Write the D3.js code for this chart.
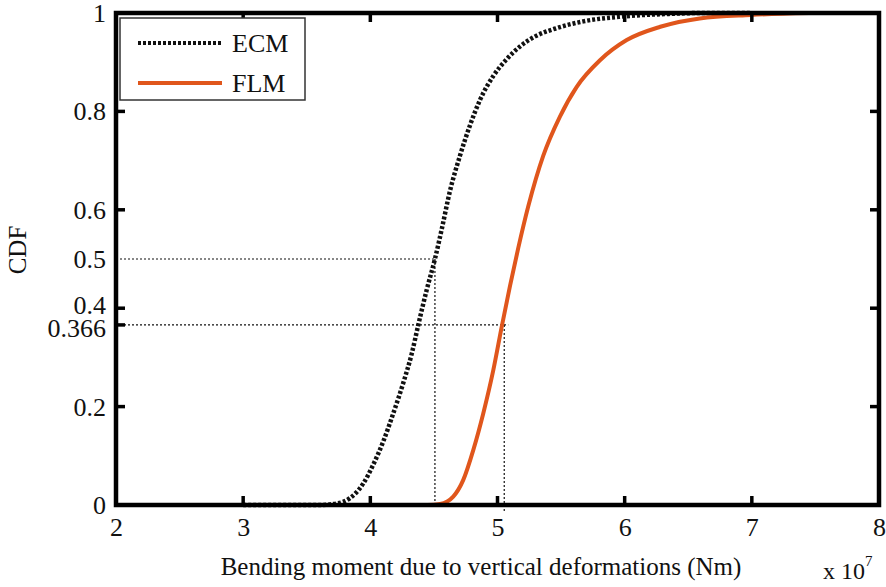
<!DOCTYPE html>
<html>
<head>
<meta charset="utf-8">
<script src="https://cdn.jsdelivr.net/npm/d3@7"></script>
<style>
  body { margin: 0; background: #fff; }
  svg text { font-family: "Liberation Serif", "Times New Roman", serif; fill: #111; }
</style>
</head>
<body>
<svg id="chart" width="886" height="587"></svg>
<script>
// CDF curves (x in units of 1e7 Nm)
const ecmX = [3.0, 3.6, 3.735, 3.84, 3.945, 4.023, 4.10, 4.18, 4.26, 4.325, 4.377, 4.443, 4.508, 4.561, 4.626, 4.705, 4.784, 4.862, 4.967, 5.072, 5.177, 5.3, 5.45, 5.675, 5.99, 6.33, 6.6, 7.0];
const ecmY = [0, 0, 0.003, 0.014, 0.044, 0.082, 0.128, 0.186, 0.249, 0.307, 0.366, 0.437, 0.5, 0.56, 0.638, 0.71, 0.772, 0.823, 0.872, 0.906, 0.932, 0.953, 0.968, 0.983, 0.993, 0.998, 1.0, 1.0];
const flmX = [4.0, 4.45, 4.548, 4.652, 4.731, 4.81, 4.888, 4.967, 5.033, 5.098, 5.163, 5.243, 5.36, 5.49, 5.623, 5.806, 6.016, 6.28, 6.59, 6.99, 7.45];
const flmY = [0, 0, 0.002, 0.017, 0.051, 0.112, 0.186, 0.274, 0.362, 0.445, 0.522, 0.608, 0.71, 0.789, 0.850, 0.904, 0.945, 0.972, 0.989, 0.996, 1.0];

const xTicks = [2, 3, 4, 5, 6, 7, 8];
const yTicks = [0, 0.2, 0.366, 0.4, 0.5, 0.6, 0.8, 1];
const seriesNames = ["ECM", "FLM"];

// guide lines: [x on curve, cdf level]
const ecmMedian = [4.508, 0.5];
const flmAt366 = [5.053, 0.366];

const margin = { top: 13, right: 7, bottom: 82, left: 116 };
const width = 886 - margin.left - margin.right;
const height = 587 - margin.top - margin.bottom;

const svg = d3.select("#chart");
const g = svg.append("g").attr("transform", `translate(${margin.left},${margin.top})`);

const x = d3.scaleLinear().domain([2, 8]).range([0, width]);
const y = d3.scaleLinear().domain([0, 1]).range([height, 0]);

const line = d3.line()
  .x(d => x(d[0]))
  .y(d => y(d[1]))
  .curve(d3.curveMonotoneX);

// dotted guide lines
const guides = g.append("g")
  .attr("stroke", "#111")
  .attr("stroke-width", 1.2)
  .attr("stroke-dasharray", "2,2")
  .attr("fill", "none");

guides.append("line")
  .attr("x1", 0).attr("x2", x(ecmMedian[0]))
  .attr("y1", y(ecmMedian[1])).attr("y2", y(ecmMedian[1]));
guides.append("line")
  .attr("x1", x(ecmMedian[0])).attr("x2", x(ecmMedian[0]))
  .attr("y1", y(ecmMedian[1])).attr("y2", y(0));
guides.append("line")
  .attr("x1", 0).attr("x2", x(flmAt366[0]) + 4)
  .attr("y1", y(flmAt366[1])).attr("y2", y(flmAt366[1]));
guides.append("line")
  .attr("x1", x(flmAt366[0])).attr("x2", x(flmAt366[0]))
  .attr("y1", y(flmAt366[1])).attr("y2", y(0) + 6);

// curves
g.append("path")
  .datum(ecmX.map((v, i) => [v, ecmY[i]]))
  .attr("d", line)
  .attr("fill", "none")
  .attr("stroke", "#111")
  .attr("stroke-width", 4.5)
  .attr("stroke-dasharray", "3,2");

g.append("path")
  .datum(flmX.map((v, i) => [v, flmY[i]]))
  .attr("d", line)
  .attr("fill", "none")
  .attr("stroke", "#e0561c")
  .attr("stroke-width", 4);

// axis labels from d3 axes; frame and tick marks drawn below
const xAxis = g.append("g")
  .attr("transform", `translate(0,${height})`)
  .call(d3.axisBottom(x).tickValues(xTicks).tickSize(0).tickPadding(13).tickFormat(d3.format("d")));
const yAxis = g.append("g")
  .call(d3.axisLeft(y).tickValues(yTicks).tickSize(0).tickPadding(10).tickFormat(d => String(d)));

[xAxis, yAxis].forEach(a => {
  a.attr("font-family", null).attr("font-size", null);
  a.select(".domain").remove();
  a.selectAll("text").attr("font-size", 26).attr("fill", "#111");
});
yAxis.selectAll(".tick text").attr("dy", "0.33em");
yAxis.selectAll(".tick").filter(d => d === 0.4).select("text").attr("dy", "0.2em");
yAxis.selectAll(".tick").filter(d => d === 0.366).select("text").attr("dy", "0.45em");

// tick marks, inward on all four sides
const marks = g.append("g").attr("stroke", "#000").attr("stroke-width", 3.5);
const inner = xTicks.slice(1, -1);
marks.selectAll(".xb").data(inner).join("line").attr("class", "xb")
  .attr("x1", d => x(d)).attr("x2", d => x(d))
  .attr("y1", height).attr("y2", height - 9);
marks.selectAll(".xt").data(inner).join("line").attr("class", "xt")
  .attr("x1", d => x(d)).attr("x2", d => x(d))
  .attr("y1", 0).attr("y2", 9);
marks.selectAll(".yl").data(yTicks.filter(d => d > 0 && d < 1 && d !== 0.5)).join("line").attr("class", "yl")
  .attr("x1", 0).attr("x2", 9)
  .attr("y1", d => y(d)).attr("y2", d => y(d));
marks.selectAll(".yr").data([0.2, 0.4, 0.6, 0.8]).join("line").attr("class", "yr")
  .attr("x1", width).attr("x2", width - 9)
  .attr("y1", d => y(d)).attr("y2", d => y(d));

// box
g.append("rect")
  .attr("x", 0).attr("y", 0)
  .attr("width", width).attr("height", height)
  .attr("fill", "none")
  .attr("stroke", "#000")
  .attr("stroke-width", 4.5);

// axis titles
svg.append("text")
  .attr("x", 481)
  .attr("y", 575)
  .attr("text-anchor", "middle")
  .attr("font-size", 25)
  .text("Bending moment due to vertical deformations (Nm)");

svg.append("text")
  .attr("transform", `translate(26,${margin.top + y(0.5) - 9}) rotate(-90)`)
  .attr("text-anchor", "middle")
  .attr("font-size", 25)
  .text("CDF");

const mult = svg.append("text")
  .attr("x", 823)
  .attr("y", 579)
  .attr("font-size", 24);
mult.append("tspan").text("x 10");
mult.append("tspan").attr("dy", -13).attr("font-size", 15).text("7");

// legend
const legend = g.append("g").attr("transform", "translate(4,5)");
legend.append("rect")
  .attr("width", 185).attr("height", 82)
  .attr("fill", "#fff")
  .attr("stroke", "#333")
  .attr("stroke-width", 1.5);

const legendStyles = [
  { stroke: "#111", dash: "3,2", w: 4 },
  { stroke: "#e0561c", dash: null, w: 4 }
];
seriesNames.forEach((name, i) => {
  const row = legend.append("g").attr("transform", `translate(0,${25 + i * 40})`);
  row.append("line")
    .attr("x1", 18).attr("x2", 102)
    .attr("stroke", legendStyles[i].stroke)
    .attr("stroke-width", legendStyles[i].w)
    .attr("stroke-dasharray", legendStyles[i].dash);
  row.append("text")
    .attr("x", 112).attr("y", 9)
    .attr("font-size", 26)
    .text(name);
});
</script>
</body>
</html>
